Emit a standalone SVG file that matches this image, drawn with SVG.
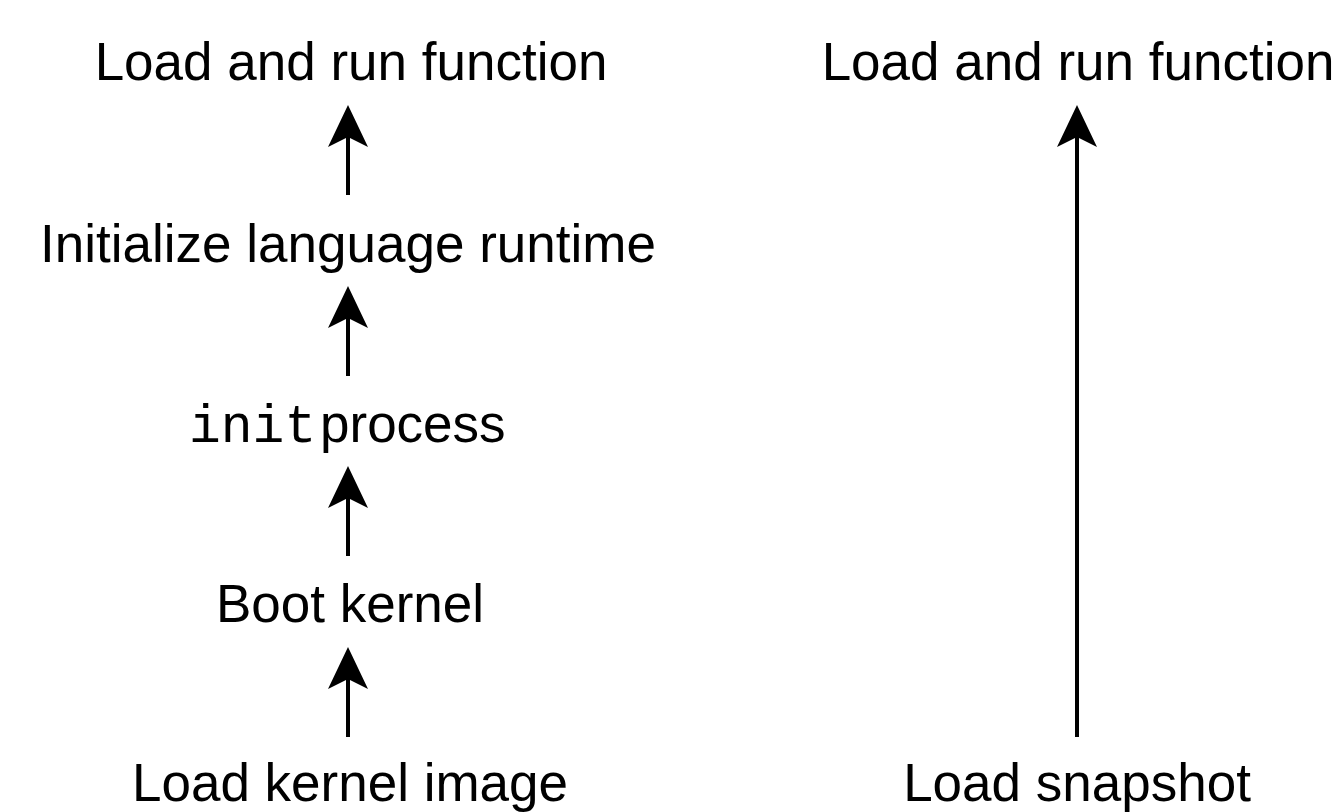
<svg xmlns="http://www.w3.org/2000/svg" width="1337" height="812" viewBox="0 0 1337 812">
<defs>
<style>
.t{font-family:"Liberation Sans",Arial,sans-serif;font-size:53px;fill:#000;text-anchor:middle}
.m{font-family:"Liberation Mono","Courier New",monospace}
.c{stroke:#000;stroke-width:4;fill:none}
</style>
<marker id="ah" viewBox="0 0 42 40" refX="10" refY="20" markerWidth="42" markerHeight="40" markerUnits="userSpaceOnUse" orient="auto">
<path d="M0,0 L42,20 L0,40 L10,20 Z" fill="#000"/>
</marker>
</defs>
<rect width="1337" height="812" fill="#fff"/>
<g id="connectors">
<line class="c" x1="348" y1="195" x2="348" y2="137" marker-end="url(#ah)"/>
<line class="c" x1="348" y1="376" x2="348" y2="318" marker-end="url(#ah)"/>
<line class="c" x1="348" y1="556" x2="348" y2="498" marker-end="url(#ah)"/>
<line class="c" x1="348" y1="737" x2="348" y2="679" marker-end="url(#ah)"/>
<line class="c" x1="1077" y1="737" x2="1077" y2="137" marker-end="url(#ah)"/>
</g>
<g id="n-run1"><text class="t" x="351" y="80">Load and run function</text></g>
<g id="n-init-runtime"><text class="t" x="348" y="262">Initialize language runtime</text></g>
<g id="n-init-process"><text class="t" style="text-anchor:start" y="442"><tspan class="m" x="189">init</tspan><tspan x="320">process</tspan></text></g>
<g id="n-boot"><text class="t" x="350" y="622">Boot kernel</text></g>
<g id="n-load-kernel"><text class="t" x="350" y="801">Load kernel image</text></g>
<g id="n-run2"><text class="t" x="1078" y="80">Load and run function</text></g>
<g id="n-snapshot"><text class="t" x="1077" y="801">Load snapshot</text></g>
</svg>
